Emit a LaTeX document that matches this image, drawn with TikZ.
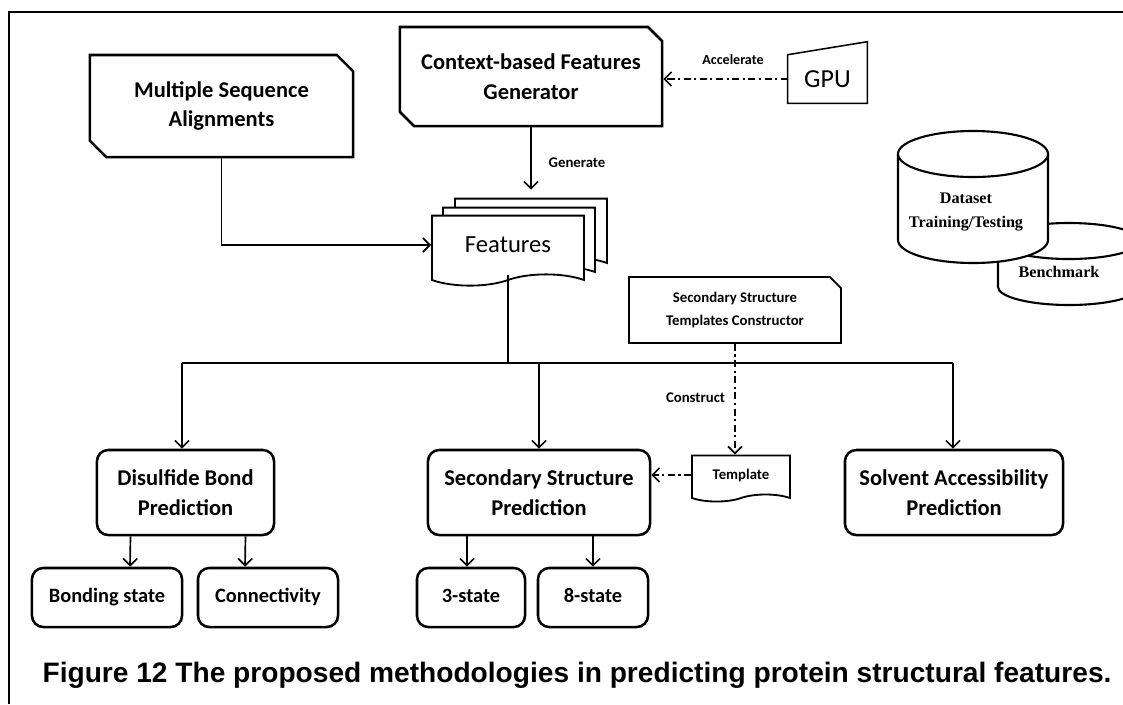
\documentclass[tikz,border=0pt]{standalone}
\usepackage{fontspec}
\setmainfont{Carlito}
\newfontfamily\capfont{Liberation Sans}
\newfontfamily\dbfont{Liberation Serif}
\usetikzlibrary{shapes.misc, shapes.symbols, arrows.meta, calc}

\begin{document}
\begin{tikzpicture}[x=0.025cm, y=0.025cm,
          chbox/.style={chamfered rectangle, draw, line width=1.8pt, align=center,
                        inner sep=0pt, font=\fontsize{16}{21}\selectfont\bfseries},
          rbox/.style={rectangle, rounded corners=8pt, draw, line width=1.8pt, align=center,
                       inner sep=0pt, font=\fontsize{16}{21}\selectfont\bfseries},
          sbox/.style={rbox, minimum height=1.475cm, text height=10pt, text depth=3pt,
                       font=\fontsize{14.5}{16}\selectfont\bfseries},
          doc/.style={tape, tape bend top=none, draw, fill=white, line width=1.3pt,
                      inner sep=0pt, align=center},
          lbl/.style={font=\fontsize{10.5}{12}\selectfont\bfseries},
          arr/.style={-{Straight Barb[length=5pt, width=10pt]}, line width=1.2pt},
          dasharr/.style={arr, dash pattern=on 5pt off 2.5pt on 1.5pt off 2.5pt},
          cyl/.style={draw, fill=white, line width=1.5pt}
        ]
        \useasboundingbox (0,0) rectangle (1123,-704);
        \draw[line width=2pt] (9,-704) -- (9,-12) -- (1123,-12);

        \node[chbox, chamfered rectangle corners={north east, south west},
              chamfered rectangle xsep=5.5pt, chamfered rectangle ysep=6pt,
              minimum width=6.575cm, minimum height=2.55cm]
              (msa)  at (221.5,-106) {Multiple Sequence\\Alignments};
        \node[chbox, chamfered rectangle corners={north east, south west},
              chamfered rectangle xsep=5pt, chamfered rectangle ysep=5pt,
              minimum width=6.55cm, minimum height=2.475cm]
              (cbfg) at (531,-76.5) {Context-based Features\\Generator};
        \node[minimum width=1.975cm, minimum height=1.2cm, inner sep=0pt,
              font=\fontsize{18.5}{20}\selectfont] (gpu) at (827.5,-79) {GPU};
        \draw[line width=1.1pt] (gpu.south west) -- (gpu.north west)
              -- ($(gpu.north east)+(0,13)$) -- (gpu.south east) -- cycle;

        \node[doc, tape bend height=8pt, minimum width=3.8cm, minimum height=1.75cm] (feat3) at (531,-228) {};
        \node[doc, tape bend height=8pt, minimum width=3.8cm, minimum height=1.75cm] (feat2) at (519,-237) {};
        \node[doc, tape bend height=8pt, minimum width=3.8cm, minimum height=1.75cm,
              font=\fontsize{17.5}{20}\selectfont] (feat) at (508,-245) {Features};

        \node[chbox, chamfered rectangle corners=north east, line width=1.3pt,
              chamfered rectangle xsep=4pt, chamfered rectangle ysep=4pt,
              minimum width=5.3cm, minimum height=1.65cm, font=\fontsize{10.5}{16}\selectfont\bfseries]
              (sstc) at (735,-310) {Secondary Structure\\Templates Constructor};
        \node[doc, tape bend height=5pt, minimum width=2.45cm, minimum height=1.15cm,
              font=\fontsize{10.5}{12}\selectfont\bfseries] (tmpl) at (741,-475) {Template};

        \node[rbox, minimum width=4.425cm, minimum height=2.125cm] (dis) at (185.5,-492.5) {Disulfide Bond\\Prediction};
        \node[rbox, minimum width=5.55cm,  minimum height=2.125cm] (ssp) at (539,-492.5)   {Secondary Structure\\Prediction};
        \node[rbox, minimum width=5.45cm,  minimum height=2.125cm] (sap) at (954,-492.5)   {Solvent Accessibility\\Prediction};
        \node[sbox, minimum width=3.75cm] (bond)  at (107,-597.5) {Bonding state};
        \node[sbox, minimum width=3.5cm]  (conn)  at (268,-597.5) {Connectivity};
        \node[sbox, minimum width=2.7cm]  (three) at (471,-597.5) {3-state};
        \node[sbox, minimum width=2.75cm] (eight) at (593,-597.5) {8-state};

        % database cylinders
        \begin{scope}
          \clip (0,0) rectangle (1123,-704);
          \filldraw[cyl] (998,-241) -- (998,-287) arc[start angle=180, end angle=360, x radius=1.775cm, y radius=0.45cm]
                -- (1140,-241) arc[start angle=0, end angle=180, x radius=1.775cm, y radius=0.45cm] -- cycle;
          \draw[cyl] (998,-241) arc[start angle=180, end angle=360, x radius=1.775cm, y radius=0.45cm];
        \end{scope}
        \filldraw[cyl] (898,-154) -- (898,-240) arc[start angle=180, end angle=360, x radius=1.875cm, y radius=0.575cm]
              -- (1048,-154) arc[start angle=0, end angle=180, x radius=1.875cm, y radius=0.575cm] -- cycle;
        \draw[cyl] (898,-154) arc[start angle=180, end angle=360, x radius=1.875cm, y radius=0.575cm];
        \node[align=center, font=\dbfont\fontsize{11.5}{17.5}\selectfont\bfseries] (dset) at (966,-212) {Dataset\\Training/Testing};
        \node[font=\dbfont\fontsize{11.5}{14}\selectfont\bfseries] (bench) at (1059,-272) {Benchmark};

        \coordinate (splitL) at (182,-363);
        \coordinate (split)  at (505,-363);
        \coordinate (splitR) at (953,-363);

        \draw[dasharr] (gpu.west) -- (gpu.west -| cbfg.east);
        \node[lbl, font=\fontsize{10}{12}\selectfont\bfseries] at (733,-60) {Accelerate};
        \draw[arr] (cbfg.south) -- ($(feat3.north)+(0,8)$);
        \node[lbl] at (577,-163) {Generate};
        \draw[arr] (msa.south) |- (feat.west);

        \draw[line width=1.2pt] (feat.south) -- (feat.south |- split);
        \draw[line width=1.2pt] (splitL) -- (splitR);
        \draw[arr] (splitL) -- (splitL |- dis.north);
        \draw[arr] (ssp.north |- split) -- (ssp.north);
        \draw[arr] (splitR) -- (splitR |- sap.north);

        \draw[dasharr] (sstc.south) -- (sstc.south |- tmpl.north);
        \node[lbl, anchor=east] at (730,-398) {Construct};
        \draw[dasharr] (tmpl.west) -- (tmpl.west -| ssp.east);

        \draw[arr] ($(dis.south)+(-55,0)$) -- ($(bond.north)+(23,0)$);
        \draw[arr] ($(dis.south)+(60,0)$)  -- ($(conn.north)+(-23,0)$);
        \draw[arr] ($(ssp.south)+(-72,0)$) -- ($(three.north)+(-4,0)$);
        \draw[arr] ($(ssp.south)+(54,0)$)  -- ($(eight.north)+(0,0)$);

        \node[font=\capfont\fontsize{20}{22}\selectfont\bfseries, anchor=base] (cap) at (577,-682)
              {Figure 12 The proposed methodologies in predicting protein structural features.};
      \end{tikzpicture}
\end{document}
